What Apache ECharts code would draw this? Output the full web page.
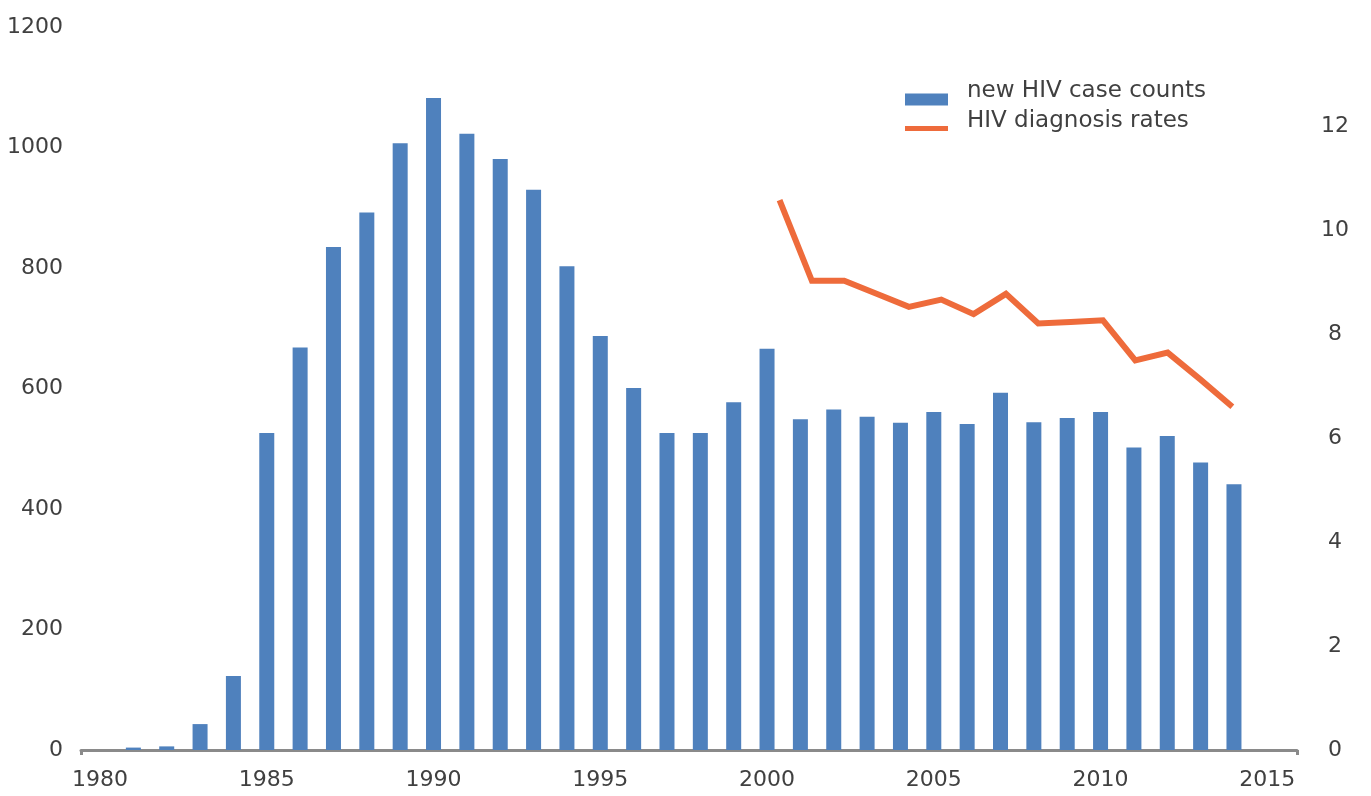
<!DOCTYPE html>
<html>
<head>
<meta charset="utf-8">
<script src="https://cdn.jsdelivr.net/npm/echarts@6/dist/echarts.min.js"></script>
<style>
  html, body { margin: 0; padding: 0; background: #fff; }
  #chart { width: 1371px; height: 796px; }
</style>
</head>
<body>
<div id="chart"></div>
<script>
// 数据
var caseYears = [1981, 1982, 1983, 1984, 1985, 1986, 1987, 1988, 1989, 1990,
                 1991, 1992, 1993, 1994, 1995, 1996, 1997, 1998, 1999, 2000,
                 2001, 2002, 2003, 2004, 2005, 2006, 2007, 2008, 2009, 2010,
                 2011, 2012, 2013, 2014];
var caseCounts = [4, 6, 43, 123, 526, 668, 835, 892, 1007, 1082,
                  1023, 981, 930, 803, 687, 601, 526, 526, 577, 666,
                  549, 565, 553, 543, 561, 541, 593, 544, 551, 561,
                  502, 521, 477, 441];
var rateYears = [2000, 2001, 2002, 2003, 2004, 2005, 2006, 2007, 2008, 2009,
                 2010, 2011, 2012, 2013, 2014];
var rates = [10.57, 9.02, 9.02, 8.77, 8.52, 8.66, 8.38, 8.77, 8.20, 8.23,
             8.26, 7.49, 7.64, 7.13, 6.60];
var yearLabels = [1980, 1985, 1990, 1995, 2000, 2005, 2010, 2015];

var FONT = 'DejaVu Sans';
var TEXT = '#404040';

var chart = echarts.init(document.getElementById('chart'));

var barData = [];
for (var i = 0; i < caseYears.length; i++) {
  barData.push([caseYears[i], caseCounts[i]]);
}
var lineData = [];
for (var j = 0; j < rateYears.length; j++) {
  lineData.push([rateYears[j], rates[j]]);
}

//不要千分位
function plain(v) {
  return String(Math.round(v));
}

//图例文字比图标略高：下面加一行空白
function legendText(name) {
  return '{n|' + name + '}\n{g| }';
}

function legendStyle(gap) {
  return {
    fontFamily: FONT, fontSize: 23, color: TEXT,
    rich: {
      n: {fontFamily: FONT, fontSize: 23, color: TEXT, lineHeight: 23, padding: [0, 0, 0, 14]},
      g: {fontSize: 2, lineHeight: gap}
    }
  };
}

var option = {
  animation: false,
  backgroundColor: '#fff',
  grid: {
    left: 81,
    right: 74,
    top: 27,
    bottom: 46
  },
  legend: [{
    data: ['new HIV case counts'],
    left: 900,
    top: 75,
    icon: 'rect',
    itemWidth: 43,
    itemHeight: 12,
    formatter: legendText,
    textStyle: legendStyle(16)
  }, {
    data: ['HIV diagnosis rates'],
    left: 900,
    top: 105,
    icon: 'rect',
    itemWidth: 43,
    itemHeight: 5,
    formatter: legendText,
    textStyle: legendStyle(14)
  }],
  xAxis: [{
    type: 'value',
    min: 1979.43,
    max: 2015.89,
    axisLine: {
      show: true,
      lineStyle: {color: '#8a8a8a', width: 3}
    },
    axisTick: {
      show: true,
      length: 5,
      customValues: [1979.43, 2015.89],
      lineStyle: {color: '#8a8a8a', width: 3}
    },
    axisLabel: {
      customValues: yearLabels,
      formatter: plain,
      margin: 19,
      fontFamily: FONT,
      fontSize: 22,
      color: TEXT
    },
    splitLine: {show: false}
  }, {
    // 折线使用的辅助横轴
    type: 'value',
    min: 1978.4,
    max: 2016,
    show: false
  }],
  yAxis: [{
    type: 'value',
    min: 0,
    max: 1200,
    interval: 200,
    axisLine: {show: false},
    axisTick: {show: false},
    splitLine: {show: false},
    axisLabel: {
      formatter: plain,
      margin: 18,
      fontFamily: FONT,
      fontSize: 22,
      color: TEXT
    }
  }, {
    type: 'value',
    min: 0,
    max: 13.9,
    interval: 2,
    position: 'right',
    axisLine: {show: false},
    axisTick: {show: false},
    splitLine: {show: false},
    axisLabel: {
      showMaxLabel: false,
      formatter: plain,
      align: 'center',
      margin: 38,
      fontFamily: FONT,
      fontSize: 22,
      color: TEXT
    }
  }],
  series: [{
    name: 'new HIV case counts',
    type: 'bar',
    xAxisIndex: 0,
    yAxisIndex: 0,
    barWidth: 15,
    itemStyle: {color: '#4f81bd'},
    data: barData
  }, {
    name: 'HIV diagnosis rates',
    type: 'line',
    xAxisIndex: 1,
    yAxisIndex: 1,
    symbol: 'none',
    itemStyle: {color: '#ee6b3b'},
    lineStyle: {color: '#ee6b3b', width: 6, join: 'miter'},
    data: lineData
  }]
};

chart.setOption(option);
</script>
</body>
</html>
